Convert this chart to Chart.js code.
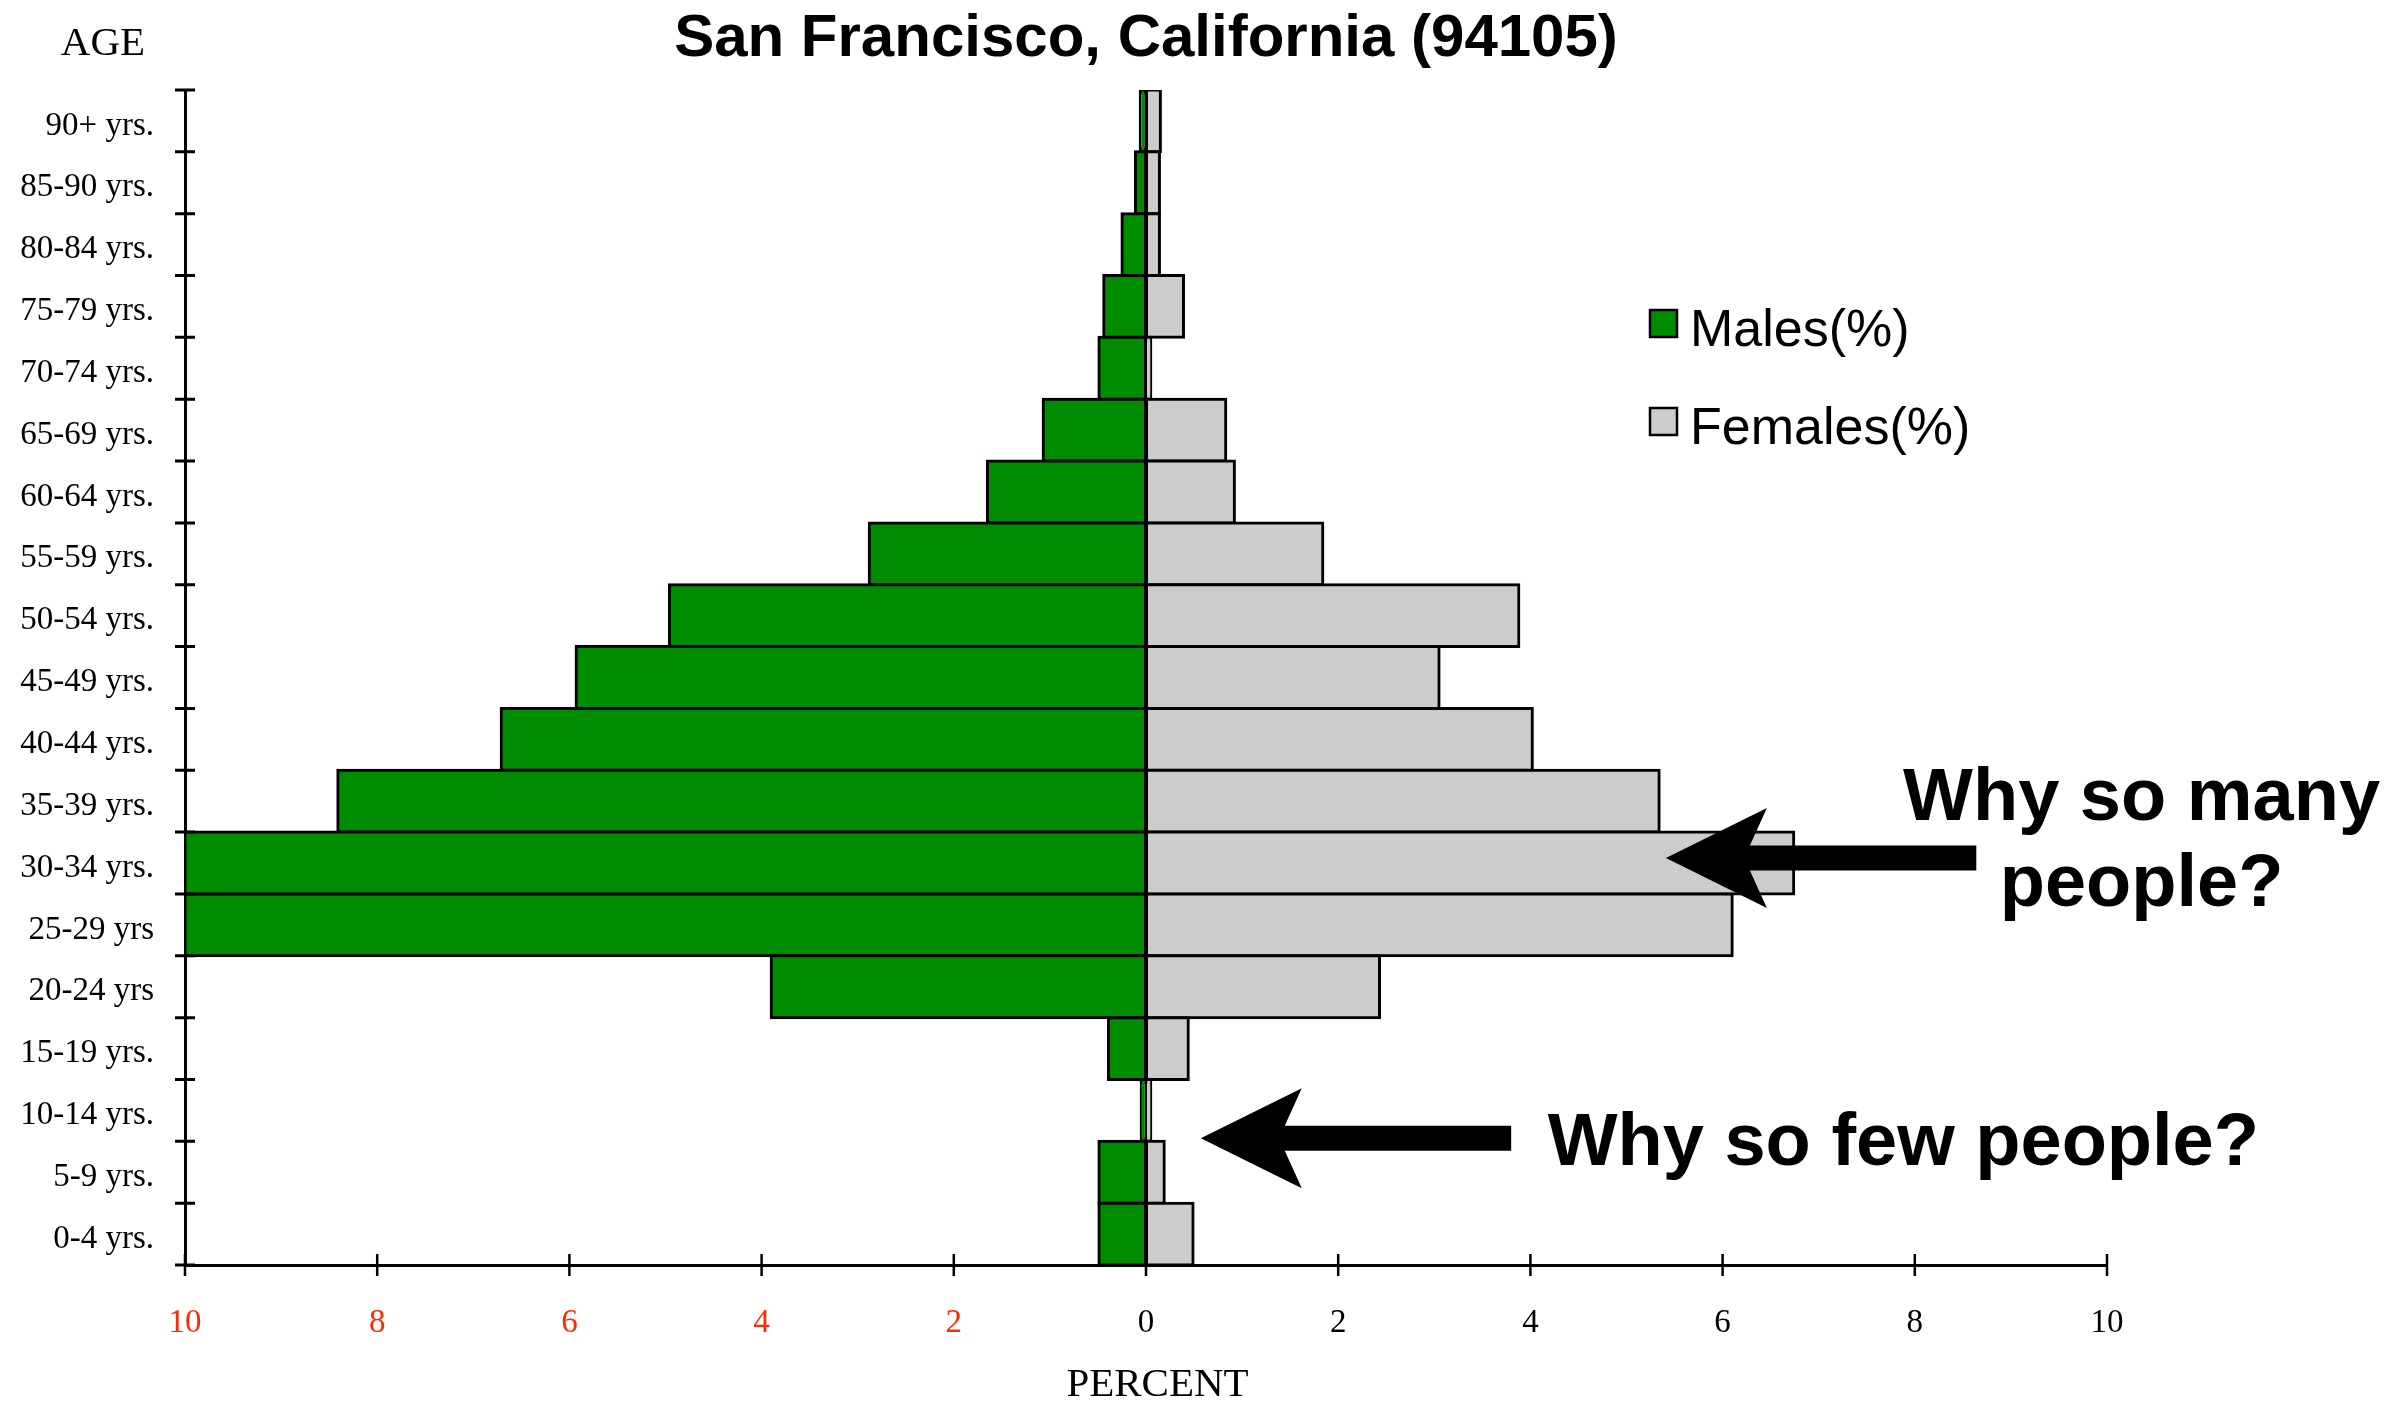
<!DOCTYPE html>
<html>
<head>
<meta charset="utf-8">
<title>San Francisco, California (94105)</title>
<script src="https://cdn.jsdelivr.net/npm/chart.js@4.4.0/dist/chart.umd.min.js"></script>
<style>
  html, body { margin: 0; padding: 0; background: #fff; overflow: hidden; }
  #wrap { width: 2394px; height: 1401px; }
</style>
</head>
<body>
<div id="wrap"><canvas id="pyramid" width="2394" height="1401"></canvas></div>
<script>
// age groups, top of the pyramid first
var ageGroups = ['90+ yrs.', '85-90 yrs.', '80-84 yrs.', '75-79 yrs.', '70-74 yrs.',
                 '65-69 yrs.', '60-64 yrs.', '55-59 yrs.', '50-54 yrs.', '45-49 yrs.',
                 '40-44 yrs.', '35-39 yrs.', '30-34 yrs.', '25-29 yrs', '20-24 yrs',
                 '15-19 yrs.', '10-14 yrs.', '5-9 yrs.', '0-4 yrs.'];
var malesPct   = [0.06, 0.11, 0.25, 0.44, 0.49, 1.07, 1.65, 2.88, 4.96, 5.93,
                  6.71, 8.41, 10, 10, 3.90, 0.39, 0.05, 0.49, 0.49];
var femalesPct = [0.15, 0.14, 0.14, 0.39, 0.05, 0.83, 0.92, 1.84, 3.88, 3.05,
                  4.02, 5.34, 6.74, 6.10, 2.43, 0.44, 0.05, 0.19, 0.49];
var percentMin = -10;
var percentMax = 10;
var percentStep = 2;

// notes drawn over the chart, in data units (x = percent, y = row index)
var arrows = [
    { tipX: 5.41, tipY: 11.92, tailX: 8.64 },
    { tipX: 0.57, tipY: 16.45, tailX: 3.80 }
];
var notes = [
    { text: 'Why so many', x: 10.36, y: 11.30, align: 'center' },
    { text: 'people?',     x: 10.36, y: 12.70, align: 'center' },
    { text: 'Why so few people?', x: 4.18, y: 16.88, align: 'left' }
];

var GREEN = '#008c00';
var GRAY = '#cccccc';
var RED = '#ff2a00';

// tick marks that cross the axes, like the original
var axisTicks = {
    id: 'axisTicks',
    afterDraw: function (chart) {
        var ctx = chart.ctx;
        var xs = chart.scales.x, ys = chart.scales.y;
        var area = chart.chartArea;
        ctx.save();
        ctx.strokeStyle = '#000';
        ctx.lineWidth = 2.5;
        ctx.beginPath();
        xs.ticks.forEach(function (t) {
            var px = xs.getPixelForValue(t.value);
            ctx.moveTo(px, area.bottom - 11);
            ctx.lineTo(px, area.bottom + 11);
        });
        ctx.stroke();
        ctx.lineWidth = 3;
        ctx.beginPath();
        for (var i = 0; i <= ageGroups.length; i++) {
            var py = ys.getPixelForValue(i - 0.5);
            ctx.moveTo(area.left - 10, py);
            ctx.lineTo(area.left + 10, py);
        }
        ctx.stroke();
        ctx.restore();
    }
};

// AGE and PERCENT labels, legend, arrows and questions
var extras = {
    id: 'extras',
    afterDraw: function (chart) {
        var ctx = chart.ctx;
        var xs = chart.scales.x, ys = chart.scales.y;
        ctx.save();

        ctx.fillStyle = '#000';
        ctx.font = '41px "Liberation Serif"';
        ctx.textAlign = 'center';
        ctx.textBaseline = 'alphabetic';
        ctx.fillText('AGE', 103, 55);
        ctx.font = '41px "Liberation Serif"';
        ctx.fillText('PERCENT', xs.getPixelForValue(0.12), 1396);

        // legend
        ctx.font = '52px "Liberation Sans"';
        ctx.textAlign = 'left';
        chart.data.datasets.forEach(function (ds, i) {
            var top = 310 + i * 98;
            ctx.fillStyle = ds.backgroundColor;
            ctx.fillRect(1650, top, 27, 27);
            ctx.strokeStyle = '#000';
            ctx.lineWidth = 2.5;
            ctx.strokeRect(1650, top, 27, 27);
            ctx.fillStyle = '#000';
            ctx.fillText(ds.label, 1690, top + 36);
        });

        // arrows
        arrows.forEach(function (a) {
            var tx = xs.getPixelForValue(a.tipX);
            var ty = ys.getPixelForValue(a.tipY);
            var ex = xs.getPixelForValue(a.tailX);
            ctx.beginPath();
            ctx.moveTo(tx, ty);
            ctx.lineTo(tx + 101, ty - 50);
            ctx.lineTo(tx + 84, ty - 12.5);
            ctx.lineTo(ex, ty - 12.5);
            ctx.lineTo(ex, ty + 12.5);
            ctx.lineTo(tx + 84, ty + 12.5);
            ctx.lineTo(tx + 101, ty + 50);
            ctx.closePath();
            ctx.fillStyle = '#000';
            ctx.fill();
        });

        ctx.font = 'bold 74px "Liberation Sans"';
        notes.forEach(function (n) {
            ctx.textAlign = n.align;
            ctx.fillText(n.text, xs.getPixelForValue(n.x), ys.getPixelForValue(n.y));
        });
        ctx.restore();
    }
};

Chart.defaults.font.family = '"Liberation Serif"';
Chart.defaults.color = '#000';

new Chart(document.getElementById('pyramid'), {
    type: 'bar',
    data: {
        labels: ageGroups,
        datasets: [
            {
                label: 'Males(%)',
                data: malesPct.map(function (v) { return -v; }),
                backgroundColor: GREEN,
                borderColor: '#000',
                borderWidth: 3,
                borderSkipped: false,
                inflateAmount: 1.5,
                barPercentage: 1,
                categoryPercentage: 1
            },
            {
                label: 'Females(%)',
                data: femalesPct,
                backgroundColor: GRAY,
                borderColor: '#000',
                borderWidth: 3,
                borderSkipped: false,
                inflateAmount: 1.5,
                barPercentage: 1,
                categoryPercentage: 1
            }
        ]
    },
    options: {
        indexAxis: 'y',
        responsive: false,
        animation: false,
        layout: { padding: { left: 0, top: 0, right: 287, bottom: 0 } },
        plugins: {
            legend: { display: false },
            tooltip: { enabled: false },
            title: {
                display: true,
                text: 'San Francisco, California (94105)',
                fullSize: false,
                color: '#000',
                font: { family: '"Liberation Sans"', size: 60, weight: 'bold' },
                padding: { top: 3, bottom: 15 }
            }
        },
        scales: {
            x: {
                stacked: true,
                min: percentMin,
                max: percentMax,
                grid: { drawOnChartArea: false, drawTicks: false },
                border: { display: true, color: '#000', width: 3 },
                ticks: {
                    stepSize: percentStep,
                    padding: 39,
                    font: { size: 33 },
                    color: function (c) { return c.tick && c.tick.value < 0 ? RED : '#000'; },
                    callback: function (v) { return Math.abs(v); }
                },
                afterFit: function (s) { s.height = 136; }
            },
            y: {
                stacked: true,
                grid: { drawOnChartArea: false, drawTicks: false },
                border: { display: true, color: '#000', width: 3 },
                ticks: { autoSkip: false, padding: 31, labelOffset: 5, font: { size: 33 }, color: '#000' },
                afterFit: function (s) { s.width = 185; }
            }
        }
    },
    plugins: [axisTicks, extras]
});
</script>
</body>
</html>
